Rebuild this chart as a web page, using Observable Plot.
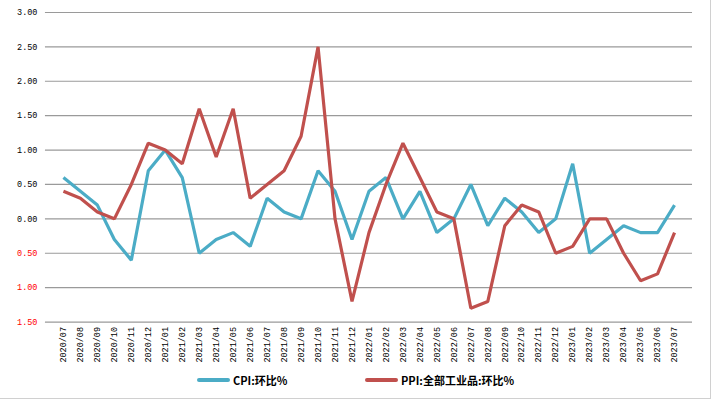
<!DOCTYPE html>
<html><head><meta charset="utf-8">
<script src="https://cdn.jsdelivr.net/npm/d3@7"></script>
<script src="https://cdn.jsdelivr.net/npm/@observablehq/plot@0.6"></script>
<style>
html,body{margin:0;padding:0;background:#fff;}
#wrap{position:relative;width:710px;height:398px;border-right:1px solid #d0d0d0;border-bottom:1px solid #d0d0d0;overflow:hidden;}
#legend{position:absolute;top:372px;left:0;width:711px;font:bold 11px "Noto Sans CJK SC","DejaVu Sans",sans-serif;color:#000;}
.item{position:absolute;display:flex;align-items:center;}
.sw{width:33px;height:4px;margin-right:3px;border-radius:2px;}
</style></head>
<body><div id="wrap"><div id="chart"></div>
<div id="legend"></div></div>
<script>
const months = ["2020/07","2020/08","2020/09","2020/10","2020/11","2020/12",
"2021/01","2021/02","2021/03","2021/04","2021/05","2021/06","2021/07","2021/08","2021/09","2021/10","2021/11","2021/12",
"2022/01","2022/02","2022/03","2022/04","2022/05","2022/06","2022/07","2022/08","2022/09","2022/10","2022/11","2022/12",
"2023/01","2023/02","2023/03","2023/04","2023/05","2023/06","2023/07"];
const cpi = [0.6,0.4,0.2,-0.3,-0.6,0.7,1.0,0.6,-0.5,-0.3,-0.2,-0.4,0.3,0.1,0.0,0.7,0.4,-0.3,0.4,0.6,0.0,0.4,-0.2,0.0,0.5,-0.1,0.3,0.1,-0.2,0.0,0.8,-0.5,-0.3,-0.1,-0.2,-0.2,0.2];
const ppi = [0.4,0.3,0.1,0.0,0.5,1.1,1.0,0.8,1.6,0.9,1.6,0.3,0.5,0.7,1.2,2.5,0.0,-1.2,-0.2,0.5,1.1,0.6,0.1,0.0,-1.3,-1.2,-0.1,0.2,0.1,-0.5,-0.4,0.0,0.0,-0.5,-0.9,-0.8,-0.2];
const yTicks = [-1.5,-1.0,-0.5,0,0.5,1.0,1.5,2.0,2.5,3.0];
const seriesNames = ["CPI:环比%","PPI:全部工业品:环比%"];
const seriesColors = ["#4bacc6","#c0504d"];

const rows = [];
months.forEach((m,i)=>{ rows.push({m, v:cpi[i], s:seriesNames[0]}); });
months.forEach((m,i)=>{ rows.push({m, v:ppi[i], s:seriesNames[1]}); });

const fontMono = '"Liberation Mono","DejaVu Sans Mono",monospace';
const chart = Plot.plot({
  width: 711, height: 368,
  marginLeft: 45, marginRight: 18, marginTop: 12, marginBottom: 46,
  style: {fontFamily: fontMono, fontSize: "8.5px", background: "#fff"},
  x: {type: "point", domain: months, padding: 0.5, label: null},
  y: {domain: [-1.5, 3], label: null},
  color: {domain: seriesNames, range: seriesColors},
  marks: [
    Plot.gridY(yTicks, {stroke: "#9a9a9a", strokeOpacity: 1, strokeWidth: 1.2}),
    Plot.axisY(yTicks.filter(d=>d>=0), {tickSize: 0, tickPadding: 8, tickFormat: d=>Math.abs(d).toFixed(2), fill: "#000", label: null}),
    Plot.axisY(yTicks.filter(d=>d<0), {tickSize: 0, tickPadding: 8, tickFormat: d=>Math.abs(d).toFixed(2), fill: "#ff0000", label: null}),
    Plot.axisX({tickSize: 0, tickPadding: 5, tickRotate: -90, fill: "#000", label: null}),
    Plot.line(rows, {x: "m", y: "v", z: "s", stroke: "s", strokeWidth: 3.2, strokeLinejoin: "miter", strokeLinecap: "butt"})
  ]
});
document.getElementById("chart").appendChild(chart);

const legend = document.getElementById("legend");
const lefts = [197, 365];
seriesNames.forEach((n,i)=>{
  const it = document.createElement("div");
  it.className = "item";
  it.style.left = lefts[i] + "px";
  it.innerHTML = `<span class="sw" style="background:${seriesColors[i]}"></span><span>${n}</span>`;
  legend.appendChild(it);
});
</script></body></html>
